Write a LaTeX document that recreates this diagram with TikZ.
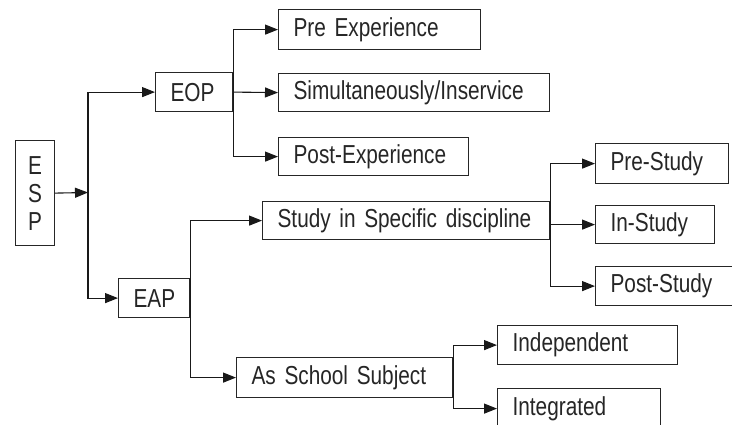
\documentclass[tikz,border=0pt]{standalone}
\usepackage{fontspec}
\setmainfont[FakeStretch=0.8]{Liberation Sans}
\usetikzlibrary{arrows.meta}
\newcommand{\boxfont}{\fontsize{26}{30}\selectfont\spaceskip=5.2pt\relax}
\begin{document}
\begin{tikzpicture}[x=1pt,y=-1pt,
  cbox/.style={draw=black!85, line width=1.2pt, anchor=north west, inner xsep=15pt, inner ysep=0pt,
    align=left, text=black!85, font=\boxfont},
  arr/.style={draw=black!90, line width=1.1pt, -{Triangle[length=13pt,width=10pt]}}]
\clip (0,0) rectangle (732,425);
\fill[white] (0,0) rectangle (732,425);
\node[cbox, align=center, inner xsep=0pt, minimum width=39pt, minimum height=105pt, text width=39pt,
  font=\fontsize{26}{28}\selectfont] (esp) at (15,140) {E\\S\\P};
\node[cbox, minimum width=77pt, minimum height=39pt, text width=47pt] (eop) at (155,72) {EOP};
\node[cbox, minimum width=202pt, minimum height=40pt, text width=172pt] (pre) at (278,9) {Pre Experience};
\node[cbox, minimum width=271pt, minimum height=38pt, text width=241pt] (sim) at (278,73) {Simultaneously/Inservice};
\node[cbox, minimum width=190pt, minimum height=38pt, text width=160pt] (post) at (278,137) {Post-Experience};
\node[cbox, minimum width=71pt, minimum height=39pt, text width=41pt] (eap) at (118,278) {EAP};
\node[cbox, minimum width=287pt, minimum height=38pt, text width=257pt] (study) at (262,201) {Study in Specific discipline};
\node[cbox, minimum width=133pt, minimum height=40pt, text width=103pt] (prest) at (595,143) {Pre-Study};
\node[cbox, minimum width=119pt, minimum height=38pt, text width=89pt] (inst) at (595,205) {In-Study};
\node[cbox, minimum width=145pt, minimum height=39pt, text width=115pt] (postst) at (595,266) {Post-Study};
\node[cbox, minimum width=216pt, minimum height=40pt, text width=186pt] (school) at (236,357) {As School Subject};
\node[cbox, minimum width=180pt, minimum height=39pt, text width=150pt] (indep) at (497,325) {Independent};
\node[cbox, minimum width=163pt, minimum height=40pt, text width=133pt] (integ) at (497,388) {Integrated};
\coordinate (j1) at (88,192.5);
\draw[arr] (esp.east) -- (j1);
\draw[arr] (j1) |- (eop.west);
\draw[arr] (j1) |- (eap.west);
\draw[arr] (eop.east) |- (pre.west);
\draw[arr] (eop.east) -- (sim.west);
\draw[arr] (eop.east) |- (post.west);
\draw[arr] (eap.east) |- (study.west);
\draw[arr] (eap.east) |- (school.west);
\draw[arr] (study.east) |- (prest.west);
\draw[arr] (study.east) |- (inst.west);
\draw[arr] (study.east) |- (postst.west);
\draw[arr] (school.east) |- (indep.west);
\draw[arr] (school.east) |- (integ.west);
\end{tikzpicture}
\end{document}
